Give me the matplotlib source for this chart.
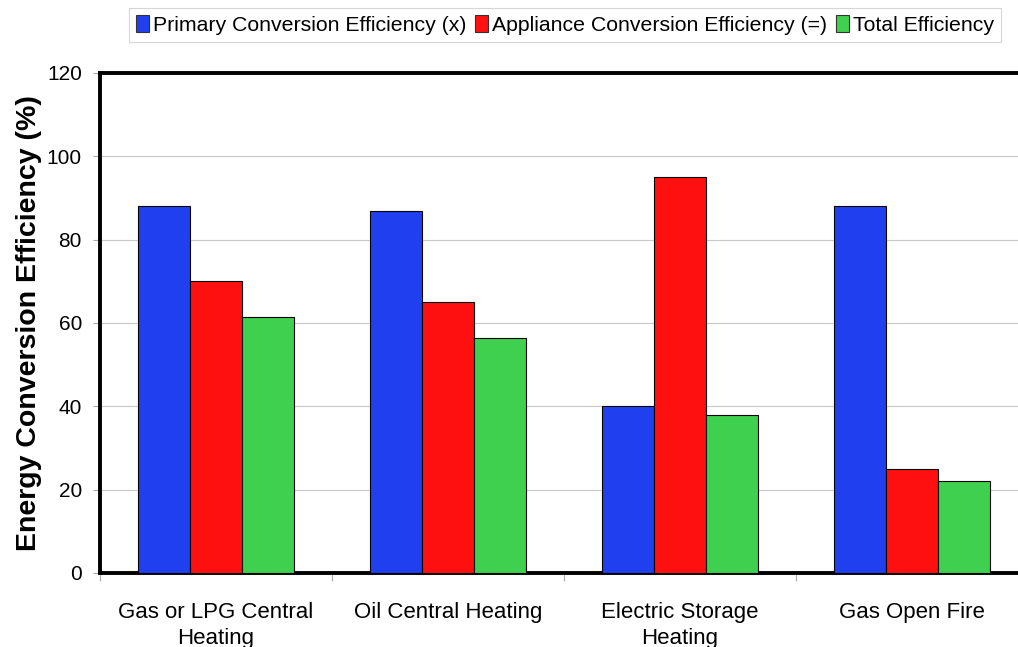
import matplotlib
matplotlib.use("Agg")
import matplotlib.pyplot as plt
import numpy as np

plt.rcParams['font.family'] = ['Liberation Sans', 'DejaVu Sans']

categories = ["Gas or LPG Central\nHeating", "Oil Central Heating",
              "Electric Storage\nHeating", "Gas Open Fire"]
series_names = ["Primary Conversion Efficiency (x)",
                "Appliance Conversion Efficiency (=)",
                "Total Efficiency"]
primary = [88, 87, 40, 88]
appliance = [70, 65, 95, 25]
total = [61.5, 56.5, 38, 22]
colors = ["#2040f0", "#ff1010", "#40d050"]

fig = plt.figure(figsize=(10.18, 6.47), dpi=100)
ax = fig.add_axes([100/1018, 1-573/647, 928/1018, 500/647])

x = np.arange(len(categories))
w = 0.224
for i, (vals, c, name) in enumerate(zip([primary, appliance, total], colors, series_names)):
    ax.bar(x + (i-1)*w, vals, width=w, color=c, edgecolor="black", linewidth=0.8,
           label=name, zorder=3)

ax.set_xlim(-0.5, len(categories)-0.5)
ax.set_ylim(0, 120)
ax.set_yticks(range(0, 121, 20))
ax.yaxis.grid(True, color="#c8c8c8", linewidth=0.8, zorder=0)
ax.set_xticks(x)
ax.set_xticklabels(categories, fontsize=16, linespacing=1.3)
ax.set_xticks(np.arange(-0.5, len(categories), 1), minor=True)
ax.tick_params(axis='x', which='major', length=0, pad=21)
ax.tick_params(axis='x', which='minor', length=6, color="#aaaaaa", width=0.8)
ax.tick_params(axis='y', labelsize=15, length=5, color="#aaaaaa", pad=8)
ax.set_ylabel("Energy Conversion Efficiency (%)", fontsize=20.5, fontweight='bold')
ax.yaxis.set_label_coords(-0.062, 0.5)

for s in ['top', 'left', 'bottom']:
    ax.spines[s].set_linewidth(2.8)
ax.spines['right'].set_visible(False)

leg = fig.legend(loc='upper center', bbox_to_anchor=(565/1018, 1-8/647), ncol=3,
                 fontsize=15.3, frameon=True, fancybox=False, edgecolor="#cccccc",
                 handlelength=0.6, handleheight=0.8, handletextpad=0.2,
                 columnspacing=0.4, borderpad=0.35, borderaxespad=0)
leg.get_frame().set_linewidth(0.8)
for h in leg.legend_handles:
    h.set_edgecolor("#333333")

fig.savefig("out.png", dpi=100)
